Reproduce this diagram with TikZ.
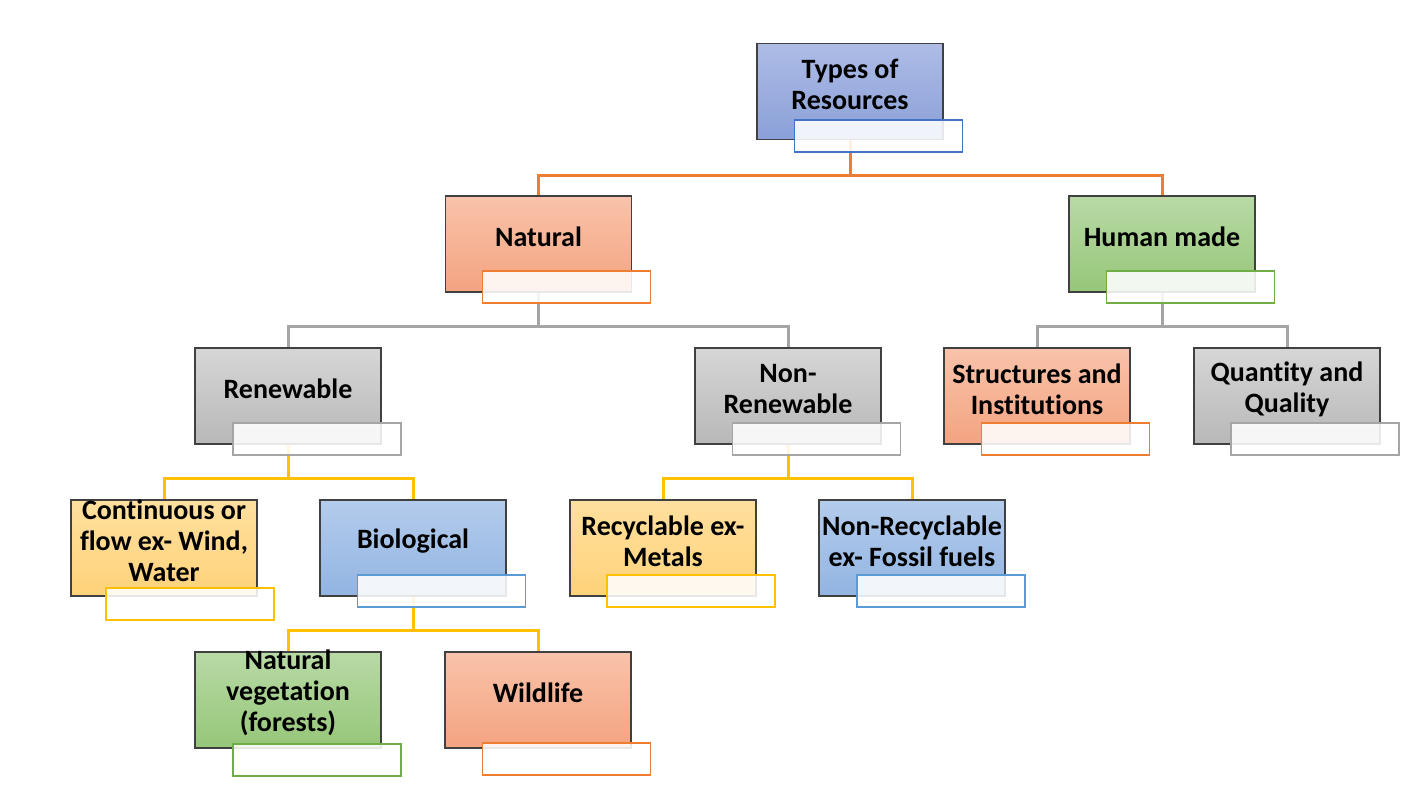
\documentclass[tikz,border=0pt]{standalone}
\usepackage{fontspec}
\setmainfont[Ligatures=NoCommon]{Carlito}
\usetikzlibrary{positioning}

\definecolor{bluetop}{RGB}{174,188,230}
\definecolor{bluebot}{RGB}{138,160,216}
\definecolor{orangetop}{RGB}{249,195,170}
\definecolor{orangebot}{RGB}{244,163,128}
\definecolor{greentop}{RGB}{184,218,166}
\definecolor{greenbot}{RGB}{150,198,120}
\definecolor{graytop}{RGB}{214,214,214}
\definecolor{graybot}{RGB}{184,184,184}
\definecolor{goldtop}{RGB}{255,224,158}
\definecolor{goldbot}{RGB}{255,210,122}
\definecolor{skytop}{RGB}{180,204,236}
\definecolor{skybot}{RGB}{146,180,226}
\definecolor{blueline}{RGB}{68,114,196}
\definecolor{orangeline}{RGB}{237,125,49}
\definecolor{greenline}{RGB}{112,173,71}
\definecolor{grayline}{RGB}{165,165,165}
\definecolor{goldline}{RGB}{255,192,0}
\definecolor{skyline}{RGB}{91,155,213}

\tikzset{
    box/.style 2 args={rectangle, draw=black!75, line width=0.6pt,
        top color=#1, bottom color=#2,
        minimum width=93pt, minimum height=48pt, inner sep=0pt},
    boxtext/.style={font=\fontsize{14}{15.5}\selectfont\bfseries, align=center, yshift=3.5pt},
    subbox/.style={rectangle, draw=#1, line width=0.6pt, fill=white, fill opacity=0.88,
        minimum width=84pt, minimum height=16pt, inner sep=0pt},
    link/.style={draw=#1, line width=1.5pt}
}

\begin{document}
\begin{tikzpicture}[x=0.5pt,y=-0.5pt]
    \useasboundingbox (0,0) rectangle (1424,799);

    % main boxes
    \node[box={bluetop}{bluebot}, label={[boxtext]center:Types of\\Resources}] (types) at (850,91.5) {};
    \node[box={orangetop}{orangebot}, label={[boxtext]center:Natural}] (natural) at (538.5,244) {};
    \node[box={greentop}{greenbot}, label={[boxtext]center:Human made}] (human) at (1162,244) {};
    \node[box={graytop}{graybot}, label={[boxtext]center:Renewable}] (renew) at (288,396) {};
    \node[box={graytop}{graybot}, label={[boxtext]center:Non-\\Renewable}] (nonrenew) at (788,396) {};
    \node[box={orangetop}{orangebot}, label={[boxtext]center:Structures and\\Institutions}] (struct) at (1037,396) {};
    \node[box={graytop}{graybot}, label={[boxtext]center:Quantity and\\Quality}] (quant) at (1287,396) {};
    \node[box={goldtop}{goldbot}, label={[boxtext]center:Continuous or\\flow ex- Wind,\\Water}] (cont) at (164,548) {};
    \node[box={skytop}{skybot}, label={[boxtext]center:Biological}] (bio) at (413,548) {};
    \node[box={goldtop}{goldbot}, label={[boxtext]center:Recyclable ex-\\Metals}] (recyc) at (663,548) {};
    \node[box={skytop}{skybot}, label={[boxtext]center:Non-Recyclable\\ex- Fossil fuels}] (nonrecyc) at (912,548) {};
    \node[box={greentop}{greenbot}, label={[boxtext]center:Natural\\vegetation\\(forests)}] (veg) at (288,700) {};
    \node[box={orangetop}{orangebot}, label={[boxtext]center:Wildlife}] (wild) at (538,700) {};

    % connectors
    \draw[link=orangeline] (types.south) -- ++(0,35) -| (natural.north);
    \draw[link=orangeline] (types.south) -- ++(0,35) -| (human.north);
    \draw[link=grayline] (natural.south) -- ++(0,34) -| (renew.north);
    \draw[link=grayline] (natural.south) -- ++(0,34) -| (nonrenew.north);
    \draw[link=grayline] (human.south) -- ++(0,34) -| (struct.north);
    \draw[link=grayline] (human.south) -- ++(0,34) -| (quant.north);
    \draw[link=goldline] (renew.south) -- ++(0,34) -| (cont.north);
    \draw[link=goldline] (renew.south) -- ++(0,34) -| (bio.north);
    \draw[link=goldline] (nonrenew.south) -- ++(0,34) -| (recyc.north);
    \draw[link=goldline] (nonrenew.south) -- ++(0,34) -| (nonrecyc.north);
    \draw[link=goldline] (bio.south) -- ++(0,34) -| (veg.north);
    \draw[link=goldline] (bio.south) -- ++(0,34) -| (wild.north);

    % small text boxes
    \node[subbox=blueline] (typesS) at (878.5,136) {};
    \node[subbox=orangeline] (naturalS) at (566.5,287) {};
    \node[subbox=greenline] (humanS) at (1190.5,287) {};
    \node[subbox=grayline] (renewS) at (317,439) {};
    \node[subbox=grayline] (nonrenewS) at (816.5,439) {};
    \node[subbox=orangeline] (structS) at (1065.5,439) {};
    \node[subbox=grayline] (quantS) at (1315,439) {};
    \node[subbox=goldline] (contS) at (190,604) {};
    \node[subbox=skyline] (bioS) at (441.5,591) {};
    \node[subbox=goldline] (recycS) at (691,591) {};
    \node[subbox=skyline] (nonrecycS) at (941,591) {};
    \node[subbox=greenline] (vegS) at (317,760) {};
    \node[subbox=orangeline] (wildS) at (566.5,759) {};
\end{tikzpicture}
\end{document}
